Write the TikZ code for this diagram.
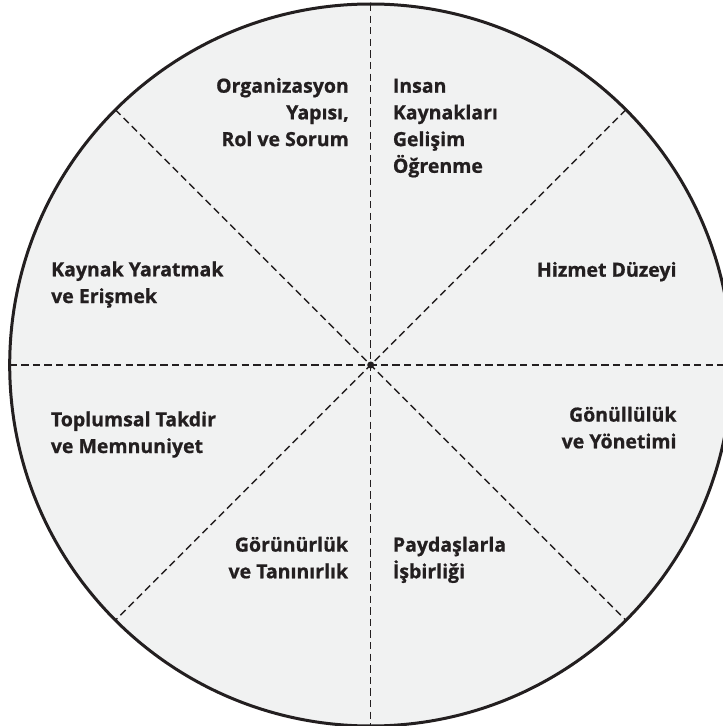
\documentclass[tikz,border=0pt]{standalone}
\usepackage{fontspec}
\setmainfont{Open Sans}[BoldFeatures={FakeBold=0.8}]
\definecolor{ink}{HTML}{231F20}
\definecolor{paper}{HTML}{F1F2F2}
\tikzset{
  label/.style={font=\bfseries\fontsize{19.5}{26.7}\selectfont, text=ink, inner sep=0pt},
  spoke/.style={draw=ink, line width=1.4pt, dash pattern=on 7.3pt off 4.3pt}
}
\begin{document}
\begin{tikzpicture}[x=1pt, y=1pt]
    \useasboundingbox (-370.7,-361) rectangle (352.3,365);
    \fill[paper] (0,0) circle (361);

    \coordinate(c) at (0,0);
    \coordinate(n) at (90:361);
    \coordinate(s) at (270:361);
    \coordinate(e) at (0:361);
    \coordinate(w) at (180:361);
    \coordinate(ne) at (45:361);
    \coordinate(sw) at (225:361);
    \coordinate(nw) at (135:361);
    \coordinate(se) at (315:361);

    \draw[spoke](n)--(s);
    \draw[spoke](w)--(e);
    \draw[spoke](nw)--(se);
    \draw[spoke](ne)--(sw);
    \fill[ink](c) circle (3.5);

    \draw[ink, line width=3pt](c) circle (361);

    \node[label, align=right, anchor=base east](org) at (-21.7,218.9){Organizasyon\\Yapısı,\\Rol ve Sorum};
    \node[label, align=left, anchor=base west](insan) at (22,192.2){Insan\\Kaynakları\\Gelişim\\Öğrenme};
    \node[label, align=left, anchor=base west](kaynak) at (-319.7,62){Kaynak Yaratmak\\ve Erişmek};
    \node[label, align=right, anchor=base east](hizmet) at (306,88.3){Hizmet Düzeyi};
    \node[label, align=left, anchor=base west](toplum) at (-320,-88){Toplumsal Takdir\\ve Memnuniyet};
    \node[label, align=right, anchor=base east](gonul) at (306,-83.3){Gönüllülük\\ve Yönetimi};
    \node[label, align=right, anchor=base east](gorun) at (-22.4,-213.3){Görünürlük\\ve Tanınırlık};
    \node[label, align=left, anchor=base west](payd) at (22,-213.3){Paydaşlarla\\İşbirliği};
  \end{tikzpicture}
\end{document}
